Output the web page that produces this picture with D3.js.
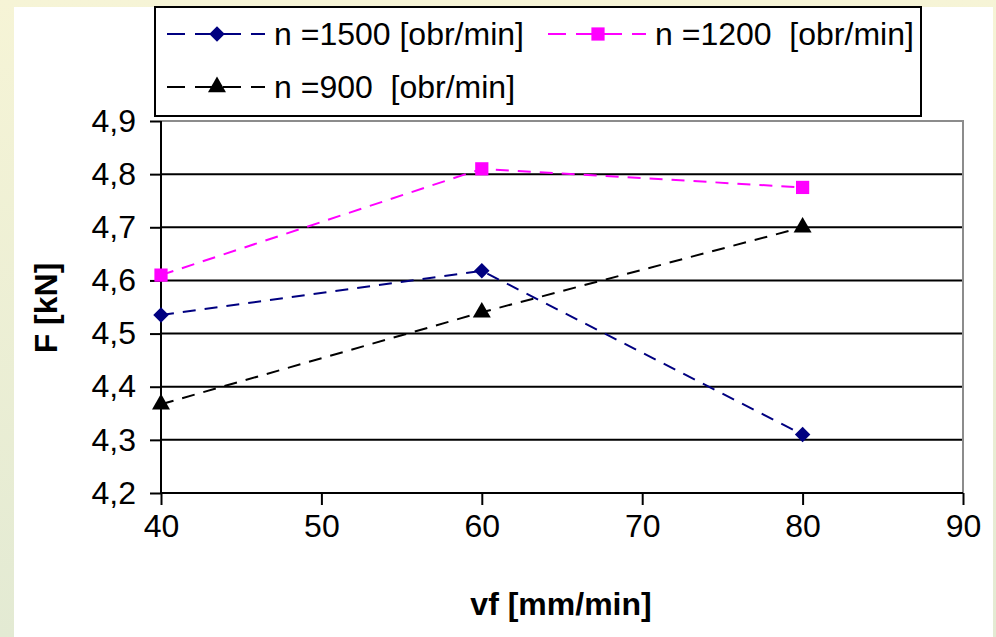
<!DOCTYPE html>
<html>
<head>
<meta charset="utf-8">
<script src="https://cdn.jsdelivr.net/npm/d3@7"></script>
<style>
  body { margin: 0; background: #fff; }
  svg { display: block; font-family: Arial, "Liberation Sans", sans-serif; }
</style>
</head>
<body>
<div id="chart"></div>
<script>
// data
let vf = [40, 60, 80];
let f1500 = [4.535, 4.618, 4.31];
let f1200 = [4.61, 4.81, 4.775];
let f900 = [4.367, 4.54, 4.70];
let xTicks = [40, 50, 60, 70, 80, 90];
let yTicks = [4.2, 4.3, 4.4, 4.5, 4.6, 4.7, 4.8, 4.9];
let seriesNames = ["n =1500 [obr/min]", "n =1200  [obr/min]", "n =900  [obr/min]"];

const width = 996;
const height = 637;
const plot = { left: 161, right: 963, top: 121, bottom: 493 };

const series = [
  { name: seriesNames[0], values: f1500, color: "#000080", symbol: d3.symbolSquare, size: 120, rotate: 45 },
  { name: seriesNames[1], values: f1200, color: "#ff00ff", symbol: d3.symbolSquare, size: 175, rotate: 0 },
  { name: seriesNames[2], values: f900, color: "#000000", symbol: d3.symbolTriangle, size: 140, rotate: 0 },
];

const svg = d3.select("#chart").append("svg")
  .attr("width", width)
  .attr("height", height);

// pale slide background
const grad = svg.append("defs").append("linearGradient")
  .attr("id", "bg").attr("x1", 0).attr("y1", 0).attr("x2", 0).attr("y2", 1);
grad.append("stop").attr("offset", "0%").attr("stop-color", "#f6f4d6");
grad.append("stop").attr("offset", "100%").attr("stop-color", "#e3ead3");

svg.append("rect").attr("width", width).attr("height", height).attr("fill", "url(#bg)");
svg.append("rect")
  .attr("x", 14).attr("y", 7)
  .attr("width", 979).attr("height", height - 7)
  .attr("fill", "#fff");

const x = d3.scaleLinear().domain([40, 90]).range([plot.left, plot.right]);
const y = d3.scaleLinear().domain([4.2, 4.9]).range([plot.bottom, plot.top]);

// gridlines
svg.append("g")
  .selectAll("line")
  .data(yTicks.filter((d) => d > 4.2 && d < 4.9))
  .enter()
  .append("line")
  .attr("x1", plot.left).attr("x2", plot.right)
  .attr("y1", (d) => y(d)).attr("y2", (d) => y(d))
  .attr("stroke", "#000").attr("stroke-width", 2);

// top and right border in grey
svg.append("path")
  .attr("d", `M${plot.left},${plot.top}H${plot.right}V${plot.bottom}`)
  .attr("fill", "none").attr("stroke", "#8c8c8c").attr("stroke-width", 2);

const fmt = (d) => d.toFixed(1).replace(".", ",");

const yAxis = svg.append("g")
  .attr("transform", `translate(${plot.left},0)`)
  .call(d3.axisLeft(y).tickValues(yTicks).tickFormat(fmt).tickSize(11).tickPadding(14));

const xAxis = svg.append("g")
  .attr("transform", `translate(0,${plot.bottom})`)
  .call(d3.axisBottom(x).tickValues(xTicks).tickFormat(d3.format("d")).tickSize(12).tickPadding(9));

[yAxis, xAxis].forEach((g) => {
  g.select(".domain").attr("stroke", "#000").attr("stroke-width", 2);
  g.selectAll(".tick line").attr("stroke", "#000").attr("stroke-width", 2);
  g.selectAll(".tick text")
    .attr("fill", "#000")
    .style("font-size", "32px")
    .style("font-family", "Arial, 'Liberation Sans', sans-serif");
});
xAxis.select(".domain").attr("d", `M${plot.left},0H${plot.right}`);
yAxis.select(".domain").attr("d", `M0,${plot.bottom}V${plot.top}`);

// axis titles
svg.append("text")
  .attr("x", 561).attr("y", 615)
  .attr("text-anchor", "middle")
  .style("font-size", "32px").style("font-weight", "bold")
  .text("vf [mm/min]");

svg.append("text")
  .attr("transform", "translate(57,308) rotate(-90)")
  .attr("text-anchor", "middle")
  .style("font-size", "32px").style("font-weight", "bold")
  .text("F [kN]");

// series
const line = d3.line()
  .x((d, i) => x(vf[i]))
  .y((d) => y(d));

series.forEach((s) => {
  svg.append("path")
    .datum(s.values)
    .attr("d", line)
    .attr("fill", "none")
    .attr("stroke", s.color)
    .attr("stroke-width", 2)
    .attr("stroke-dasharray", "13,9");

  svg.append("g")
    .selectAll("path")
    .data(s.values)
    .enter()
    .append("path")
    .attr("d", d3.symbol().type(s.symbol).size(s.size))
    .attr("transform", (d, i) => `translate(${x(vf[i])},${y(d)}) rotate(${s.rotate})`)
    .attr("fill", s.color);
});

// legend
const legend = svg.append("g");
legend.append("rect")
  .attr("x", 155).attr("y", 7)
  .attr("width", 766).attr("height", 109)
  .attr("fill", "#fff").attr("stroke", "#000").attr("stroke-width", 2);

const legendPos = [
  { x: 167, y: 34 },
  { x: 548, y: 34 },
  { x: 167, y: 87 },
];

series.forEach((s, i) => {
  const p = legendPos[i];
  const item = legend.append("g").attr("transform", `translate(${p.x},${p.y})`);
  item.append("line")
    .attr("x1", 0).attr("x2", 98)
    .attr("stroke", s.color).attr("stroke-width", 2)
    .attr("stroke-dasharray", "18,10");
  item.append("path")
    .attr("d", d3.symbol().type(s.symbol).size(s.size))
    .attr("transform", `translate(50,0) rotate(${s.rotate})`)
    .attr("fill", s.color);
  item.append("text")
    .attr("x", 107).attr("y", 11)
    .style("font-size", "32px")
    .style("white-space", "pre")
    .text(s.name);
});
</script>
</body>
</html>
